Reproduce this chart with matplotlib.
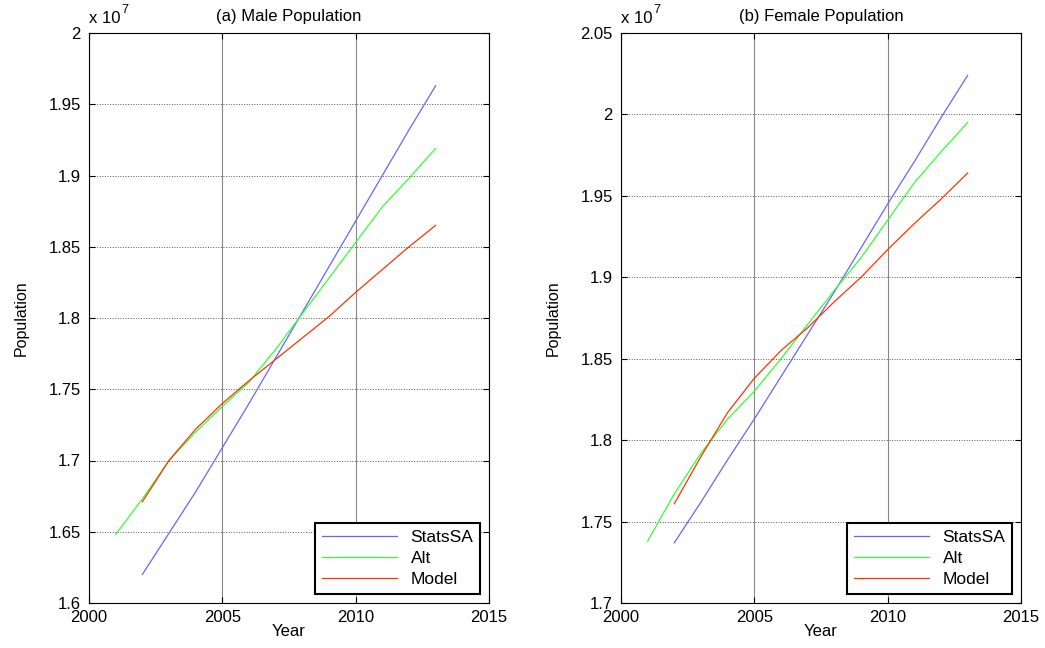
import matplotlib.pyplot as plt
from matplotlib.ticker import FuncFormatter

plt.rcParams['font.family'] = ['Liberation Sans', 'DejaVu Sans']

# Data (population in units of 1e7)
years_alt = list(range(2001, 2014))
years = list(range(2002, 2014))

male_stats = [1.620, 1.649, 1.678, 1.709, 1.740, 1.772, 1.804, 1.836, 1.868, 1.900, 1.932, 1.963]
male_alt = [1.648, 1.673, 1.700, 1.720, 1.738, 1.755, 1.778, 1.803, 1.828, 1.853, 1.878, 1.898, 1.919]
male_model = [1.671, 1.700, 1.722, 1.740, 1.756, 1.771, 1.786, 1.801, 1.818, 1.834, 1.850, 1.865]

female_stats = [1.737, 1.762, 1.788, 1.813, 1.839, 1.865, 1.891, 1.918, 1.945, 1.971, 1.998, 2.024]
female_alt = [1.738, 1.767, 1.792, 1.813, 1.830, 1.850, 1.871, 1.892, 1.912, 1.935, 1.958, 1.977, 1.995]
female_model = [1.761, 1.790, 1.817, 1.838, 1.855, 1.869, 1.885, 1.900, 1.917, 1.933, 1.948, 1.964]

panels = [
    ("(a) Male Population", male_stats, male_alt, male_model, (1.6, 2.0)),
    ("(b) Female Population", female_stats, female_alt, female_model, (1.7, 2.05)),
]

fig = plt.figure(figsize=(10.45, 6.48), dpi=100)
lefts = [89 / 1045, 621 / 1045]

fmt = FuncFormatter(lambda v, p: ('%.2f' % v).rstrip('0').rstrip('.'))

for left, (title, stats, alt, model, ylim) in zip(lefts, panels):
    ax = fig.add_axes([left, 45 / 648, 400 / 1045, 570 / 648])
    ax.plot(years, stats, color='#6666ff', lw=0.9, label='StatsSA')
    ax.plot(years_alt, alt, color='#33ff33', lw=0.9, label='Alt')
    ax.plot(years, model, color='#ff3300', lw=0.9, label='Model')

    ax.set_xlim(2000, 2015)
    ax.set_ylim(*ylim)
    ax.set_xticks([2000, 2005, 2010, 2015])
    ax.yaxis.set_major_formatter(fmt)
    ax.tick_params(direction='in', top=True, right=True, labelsize=12, length=4)
    ax.tick_params(axis='y', pad=6)
    ax.tick_params(axis='x', pad=5)
    ax.grid(True, axis='x', color='#888888', lw=0.8, ls='-')
    ax.grid(True, axis='y', color='#555555', lw=0.7, ls=':')
    ax.set_axisbelow(True)
    for s in ax.spines.values():
        s.set_linewidth(0.8)

    ax.set_title(title, fontsize=12, pad=9)
    ax.set_xlabel('Year', fontsize=12, labelpad=-1)
    ax.set_ylabel('Population', fontsize=11.5, labelpad=14)
    ax.text(0.0, 1.012, 'x 10', transform=ax.transAxes, fontsize=12,
            ha='left', va='bottom')
    ax.text(0.08, 1.03, '7', transform=ax.transAxes, fontsize=9,
            ha='left', va='bottom')

    leg = ax.legend(loc='lower right', fontsize=12.5, handlelength=4.3,
                    fancybox=False, framealpha=1, edgecolor='black',
                    borderaxespad=0.5, labelspacing=0.35, borderpad=0.4)
    leg.get_frame().set_linewidth(1.5)

fig.savefig('out.png', dpi=100)
